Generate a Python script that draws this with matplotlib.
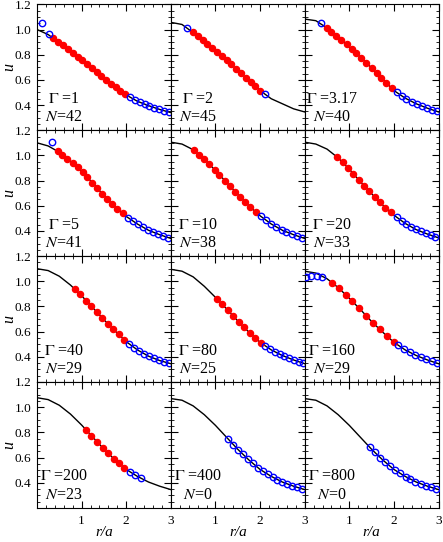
import matplotlib
matplotlib.use('Agg')
import matplotlib.pyplot as plt
from matplotlib.ticker import MultipleLocator

plt.rcParams['font.family'] = ['Liberation Serif', 'DejaVu Serif']
plt.rcParams['mathtext.fontset'] = 'stix'

# panel labels
gammas = ['1', '2', '3.17', '5', '10', '20', '40', '80', '160', '200', '400', '800']
n_vals = [42, 45, 40, 41, 38, 33, 29, 25, 29, 23, 0, 0]

# solid curves
curve_r = [0, 0.25, 0.5, 0.75, 1.0, 1.25, 1.5, 1.75, 2.0, 2.25, 2.5, 2.75, 3.0]
curve_u = [
    [1.0, 0.96, 0.895, 0.83, 0.76, 0.69, 0.615, 0.545, 0.48, 0.43, 0.395, 0.365, 0.34],
    [1.057, 1.04, 0.975, 0.905, 0.83, 0.755, 0.675, 0.595, 0.515, 0.45, 0.41, 0.37, 0.345],
    [1.083, 1.07, 1.012, 0.94, 0.862, 0.78, 0.695, 0.605, 0.515, 0.455, 0.41, 0.375, 0.345],
    [1.1, 1.075, 1.025, 0.955, 0.875, 0.78, 0.68, 0.59, 0.515, 0.455, 0.405, 0.37, 0.34],
    [1.105, 1.09, 1.045, 0.97, 0.88, 0.785, 0.69, 0.6, 0.52, 0.455, 0.405, 0.37, 0.34],
    [1.105, 1.09, 1.05, 0.98, 0.89, 0.79, 0.695, 0.605, 0.525, 0.46, 0.41, 0.375, 0.345],
    [1.1, 1.085, 1.04, 0.97, 0.885, 0.79, 0.695, 0.605, 0.52, 0.455, 0.405, 0.37, 0.345],
    [1.095, 1.08, 1.035, 0.96, 0.872, 0.78, 0.685, 0.595, 0.515, 0.455, 0.41, 0.375, 0.345],
    [1.08, 1.065, 1.02, 0.95, 0.865, 0.775, 0.68, 0.595, 0.515, 0.455, 0.41, 0.375, 0.345],
    [1.075, 1.06, 1.015, 0.945, 0.858, 0.762, 0.667, 0.58, 0.505, 0.45, 0.405, 0.372, 0.345],
    [1.068, 1.055, 1.01, 0.94, 0.855, 0.76, 0.665, 0.58, 0.505, 0.45, 0.405, 0.372, 0.345],
    [1.068, 1.055, 1.01, 0.94, 0.855, 0.76, 0.665, 0.58, 0.505, 0.45, 0.405, 0.372, 0.345],
]

# red filled points
red_r = [
    [0.37, 0.48, 0.58, 0.69, 0.80, 0.91, 1.01, 1.12, 1.23, 1.34, 1.44, 1.55, 1.66, 1.77, 1.87, 1.98],
    [0.49, 0.60, 0.71, 0.81, 0.92, 1.03, 1.14, 1.25, 1.35, 1.46, 1.57, 1.68, 1.79, 1.89, 2.00],
    [0.49, 0.60, 0.71, 0.82, 0.94, 1.05, 1.16, 1.27, 1.38, 1.50, 1.61, 1.72, 1.83, 1.95],
    [0.46, 0.57, 0.68, 0.80, 0.91, 1.02, 1.13, 1.24, 1.35, 1.46, 1.58, 1.69, 1.80, 1.92],
    [0.52, 0.63, 0.75, 0.86, 0.98, 1.09, 1.21, 1.32, 1.44, 1.55, 1.67, 1.78, 1.90],
    [0.73, 0.85, 0.97, 1.09, 1.21, 1.33, 1.45, 1.57, 1.69, 1.81, 1.93],
    [0.85, 0.97, 1.10, 1.22, 1.34, 1.46, 1.59, 1.71, 1.83, 1.96],
    [1.03, 1.15, 1.28, 1.40, 1.52, 1.64, 1.77, 1.89, 2.01],
    [0.61, 0.76, 0.92, 1.07, 1.22, 1.38, 1.53, 1.68, 1.84, 1.99],
    [1.10, 1.22, 1.35, 1.47, 1.60, 1.72, 1.84, 1.96],
    [],
    [],
]
red_u = [
    [0.929, 0.900, 0.874, 0.846, 0.816, 0.785, 0.757, 0.726, 0.696, 0.663, 0.633, 0.601, 0.570, 0.540, 0.514, 0.485],
    [0.978, 0.947, 0.916, 0.887, 0.854, 0.821, 0.788, 0.755, 0.723, 0.688, 0.653, 0.617, 0.582, 0.550, 0.515],
    [1.014, 0.983, 0.952, 0.918, 0.881, 0.846, 0.810, 0.773, 0.736, 0.695, 0.655, 0.616, 0.576, 0.533],
    [1.033, 1.005, 0.975, 0.939, 0.904, 0.867, 0.826, 0.784, 0.740, 0.696, 0.651, 0.612, 0.575, 0.539],
    [1.039, 1.006, 0.970, 0.930, 0.887, 0.846, 0.800, 0.758, 0.713, 0.672, 0.629, 0.590, 0.552],
    [0.986, 0.944, 0.901, 0.854, 0.806, 0.760, 0.714, 0.670, 0.627, 0.586, 0.547],
    [0.936, 0.895, 0.847, 0.801, 0.756, 0.710, 0.663, 0.619, 0.578, 0.534],
    [0.861, 0.817, 0.769, 0.723, 0.678, 0.635, 0.589, 0.550, 0.513],
    [0.989, 0.947, 0.892, 0.840, 0.786, 0.726, 0.670, 0.619, 0.566, 0.518],
    [0.820, 0.774, 0.724, 0.678, 0.632, 0.590, 0.553, 0.517],
    [],
    [],
]

# blue open points
blue_r = [
    [0.12, 0.27, 2.08, 2.19, 2.30, 2.41, 2.52, 2.63, 2.74, 2.85, 2.96],
    [0.37, 2.10],
    [0.36, 2.06, 2.17, 2.28, 2.40, 2.51, 2.62, 2.73, 2.85, 2.96],
    [0.33, 2.04, 2.15, 2.26, 2.38, 2.49, 2.60, 2.71, 2.83, 2.94],
    [2.02, 2.13, 2.25, 2.36, 2.48, 2.59, 2.71, 2.82, 2.94],
    [2.06, 2.17, 2.28, 2.39, 2.49, 2.60, 2.71, 2.82, 2.92],
    [2.07, 2.18, 2.29, 2.40, 2.51, 2.62, 2.73, 2.84, 2.95],
    [2.11, 2.22, 2.33, 2.44, 2.54, 2.65, 2.76, 2.87, 2.97],
    [0.02, 0.15, 0.28, 0.39, 2.10, 2.22, 2.35, 2.47, 2.60, 2.72, 2.85, 2.97],
    [2.09, 2.20, 2.33],
    [1.29, 1.40, 1.51, 1.62, 1.73, 1.84, 1.95, 2.06, 2.17, 2.28, 2.39, 2.50, 2.61, 2.72, 2.83, 2.94],
    [1.46, 1.57, 1.69, 1.80, 1.92, 2.03, 2.14, 2.26, 2.37, 2.48, 2.60, 2.71, 2.83, 2.94],
]
blue_u = [
    [1.048, 0.965, 0.464, 0.442, 0.423, 0.408, 0.393, 0.379, 0.366, 0.355, 0.344],
    [1.009, 0.489],
    [1.052, 0.501, 0.474, 0.450, 0.428, 0.409, 0.393, 0.378, 0.363, 0.350],
    [1.106, 0.505, 0.479, 0.453, 0.429, 0.407, 0.391, 0.376, 0.360, 0.347],
    [0.515, 0.486, 0.455, 0.433, 0.409, 0.392, 0.376, 0.362, 0.347],
    [0.509, 0.481, 0.454, 0.432, 0.412, 0.396, 0.381, 0.367, 0.355],
    [0.502, 0.473, 0.447, 0.425, 0.404, 0.388, 0.373, 0.361, 0.350],
    [0.489, 0.462, 0.441, 0.421, 0.404, 0.389, 0.374, 0.361, 0.349],
    [1.035, 1.045, 1.043, 1.030, 0.491, 0.462, 0.437, 0.415, 0.396, 0.379, 0.363, 0.349],
    [0.485, 0.461, 0.436],
    [0.745, 0.703, 0.662, 0.624, 0.587, 0.553, 0.520, 0.492, 0.468, 0.445, 0.425, 0.405, 0.390, 0.376, 0.363, 0.351],
    [0.680, 0.641, 0.600, 0.565, 0.529, 0.498, 0.474, 0.448, 0.428, 0.409, 0.392, 0.377, 0.363, 0.351],
]

fig, axes = plt.subplots(4, 3, figsize=(4.43, 5.42), dpi=100, sharex=True, sharey=True)
fig.subplots_adjust(left=0.0835, right=0.99, top=0.992, bottom=0.063, hspace=0, wspace=0)

for i, ax in enumerate(axes.flat):
    ax.plot(curve_r, curve_u[i], color='black', lw=1.0, zorder=1)
    ax.plot(red_r[i], red_u[i], 'o', color='#ff0000', ms=4.4, mec='#ff0000', zorder=2)
    ax.plot(blue_r[i], blue_u[i], 'o', mfc='none', mec='#0000ff', mew=1.0, ms=4.6, zorder=3)
    ax.text(0.2, 0.25, r'$\Gamma$ =' + gammas[i], transform=ax.transAxes, ha='center', va='center', fontsize=11.5)
    ax.text(0.2, 0.105, r'$N$=' + str(n_vals[i]), transform=ax.transAxes, ha='center', va='center', fontsize=11.5)
    ax.set_xlim(0, 3)
    ax.set_ylim(0.2, 1.2)
    ax.xaxis.set_major_locator(MultipleLocator(1))
    ax.xaxis.set_minor_locator(MultipleLocator(0.2))
    ax.yaxis.set_major_locator(MultipleLocator(0.2))
    ax.yaxis.set_minor_locator(MultipleLocator(0.05))
    ax.tick_params(which='both', direction='in', top=True, right=True, labelsize=9.5)
    ax.tick_params(axis='x', pad=5)
    ax.tick_params(axis='y', pad=4)
    ax.tick_params(which='major', length=5)
    ax.tick_params(which='minor', length=2.5)
    ax.set_yticks([0.4, 0.6, 0.8, 1.0, 1.2])
    ax.set_xticks([1, 2, 3])

for ax in axes[:, 0]:
    ax.set_ylabel('u', style='italic', fontsize=11.5)
    ax.yaxis.set_label_coords(-0.15, 0.5)
for ax in axes[-1, :]:
    ax.set_xlabel('r/a', style='italic', fontsize=11)
    ax.xaxis.set_label_coords(0.5, -0.145)

plt.savefig('out.png', dpi=100)
